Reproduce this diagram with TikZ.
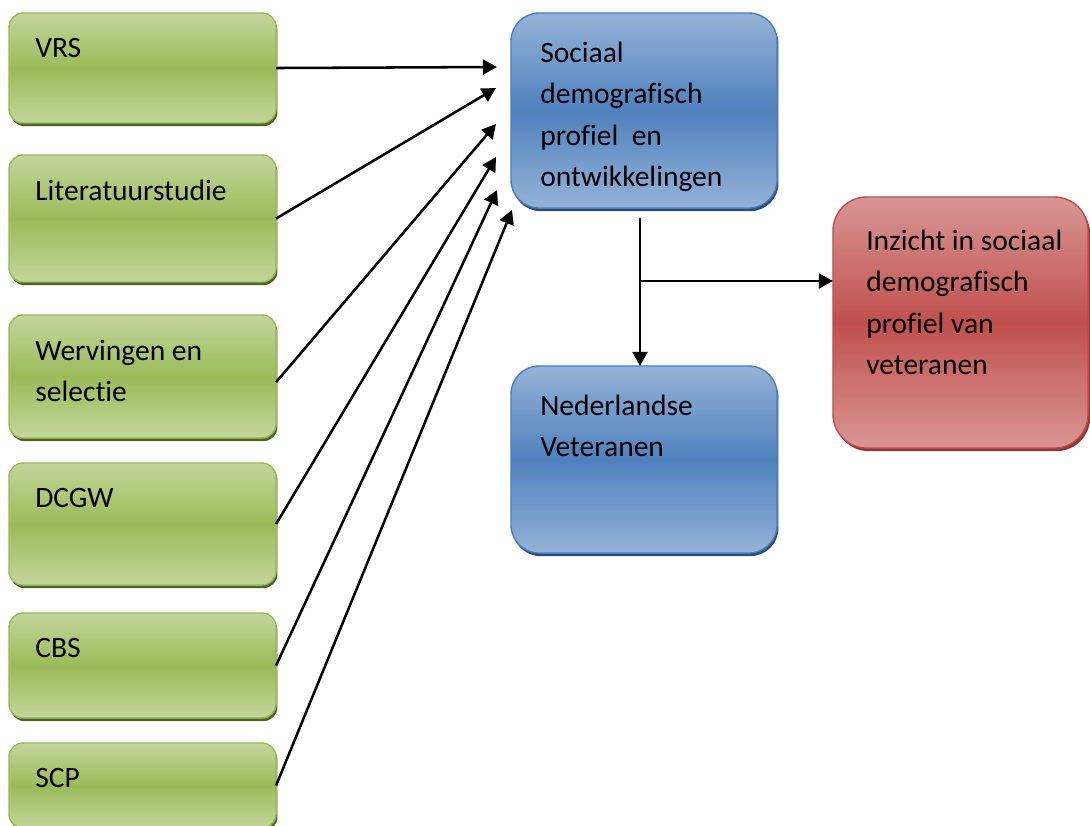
\documentclass[tikz,border=0pt]{standalone}
\usepackage{fontspec}
\setmainfont{Carlito}[Ligatures=NoCommon]
\usepackage{tikz}
\usetikzlibrary{positioning, arrows.meta, shadows}

\definecolor{grnlight}{HTML}{C3D69B}
\definecolor{grnmid}{HTML}{9BBB59}
\definecolor{grnline}{HTML}{98B954}
\definecolor{grnshadow}{HTML}{4F6228}
\definecolor{blulight}{HTML}{95B3D7}
\definecolor{blumid}{HTML}{4F81BD}
\definecolor{bluline}{HTML}{4A7EBB}
\definecolor{blushadow}{HTML}{2C4D75}
\definecolor{redlight}{HTML}{D99694}
\definecolor{redmid}{HTML}{C0504D}
\definecolor{redline}{HTML}{BE4B48}
\definecolor{redshadow}{HTML}{8C3836}

\begin{document}
\begin{tikzpicture}[x=0.025cm, y=-0.025cm,
  box/.style={rectangle, anchor=north west, inner sep=0pt, outer sep=0pt, line width=1pt},
  srcbox/.style={box, rounded corners=10pt, minimum width=6.675cm, draw=grnline,
    top color=grnlight, bottom color=grnlight, middle color=grnmid,
    drop shadow={shadow xshift=1pt, shadow yshift=-2.2pt, fill=grnshadow, opacity=1}},
  subjbox/.style={box, rounded corners=20pt, minimum width=6.65cm, draw=bluline,
    top color=blulight, bottom color=blulight, middle color=blumid,
    drop shadow={shadow xshift=1pt, shadow yshift=-2.2pt, fill=blushadow, opacity=1}},
  goalbox/.style={box, rounded corners=24pt, minimum width=6.375cm, draw=redline,
    top color=redlight, bottom color=redlight, middle color=redmid,
    drop shadow={shadow xshift=1.5pt, shadow yshift=-2.2pt, fill=redshadow, opacity=1}},
  txt/.style={inner sep=0pt, align=left, font=\fontsize{21}{29.5}\selectfont},
  link/.style={-{Triangle[length=10pt, width=10.5pt]}, line width=1.8pt}]
\useasboundingbox (0,0) rectangle (1090,825);

% Sources
\node[srcbox, minimum height=2.75cm]  (vrs) at (9,13) {};
\node[srcbox, minimum height=3.175cm] (lit) at (9,155) {};
\node[srcbox, minimum height=3.075cm] (wer) at (9,315) {};
\node[srcbox, minimum height=3.05cm]  (dcg) at (9,463) {};
\node[srcbox, minimum height=2.625cm] (cbs) at (9,613) {};
\node[srcbox, minimum height=2.125cm] (scp) at (9,743) {};

\node[txt, below right=0.62cm and 0.65cm of vrs.north west] (vrs-t) {VRS};
\node[txt, below right=0.62cm and 0.65cm of lit.north west] (lit-t) {Literatuurstudie};
\node[txt, below right=0.62cm and 0.65cm of wer.north west] (wer-t) {Wervingen en\\selectie};
\node[txt, below right=0.62cm and 0.65cm of dcg.north west] (dcg-t) {DCGW};
\node[txt, below right=0.62cm and 0.65cm of cbs.north west] (cbs-t) {CBS};
\node[txt, below right=0.62cm and 0.65cm of scp.north west] (scp-t) {SCP};

% Subject and goal
\node[subjbox, minimum height=4.875cm] (soc) at (511,13) {};
\node[subjbox, minimum height=4.675cm] (ned) at (511,366) {};
\node[goalbox, minimum height=6.275cm] (inz) at (833,197) {};

\node[txt, below right=0.71cm and 0.725cm of soc.north west] (soc-t) {Sociaal\\demografisch\\profiel~ en\\ontwikkelingen};
\node[txt, below right=0.71cm and 0.725cm of ned.north west] (ned-t) {Nederlandse\\Veteranen};
\node[txt, below right=0.81cm and 0.825cm of inz.north west] (inz-t) {Inzicht in sociaal\\demografisch\\profiel van\\veteranen};

% Arrow ends
\coordinate (t1) at (497,67);
\coordinate (t2) at (496,88);
\coordinate (t3) at (496,124);
\coordinate (t4) at (496,157);
\coordinate (t5) at (497,190);
\coordinate (t6) at (512,210);
\coordinate (j1) at (640,218);
\coordinate (j2) at (640,281);

\draw[link] (vrs.east) -- (t1);
\draw[link] (lit.east) -- (t2);
\draw[link] ([yshift=-4pt]wer.east) -- (t3);
\draw[link] (dcg.east) -- (t4);
\draw[link] (cbs.east) -- (t5);
\draw[link] (scp.east) -- (t6);

\draw[link] (j1) -- (j1 |- ned.north);
\draw[link] (j2) -- (j2 -| inz.west);

\end{tikzpicture}
\end{document}
